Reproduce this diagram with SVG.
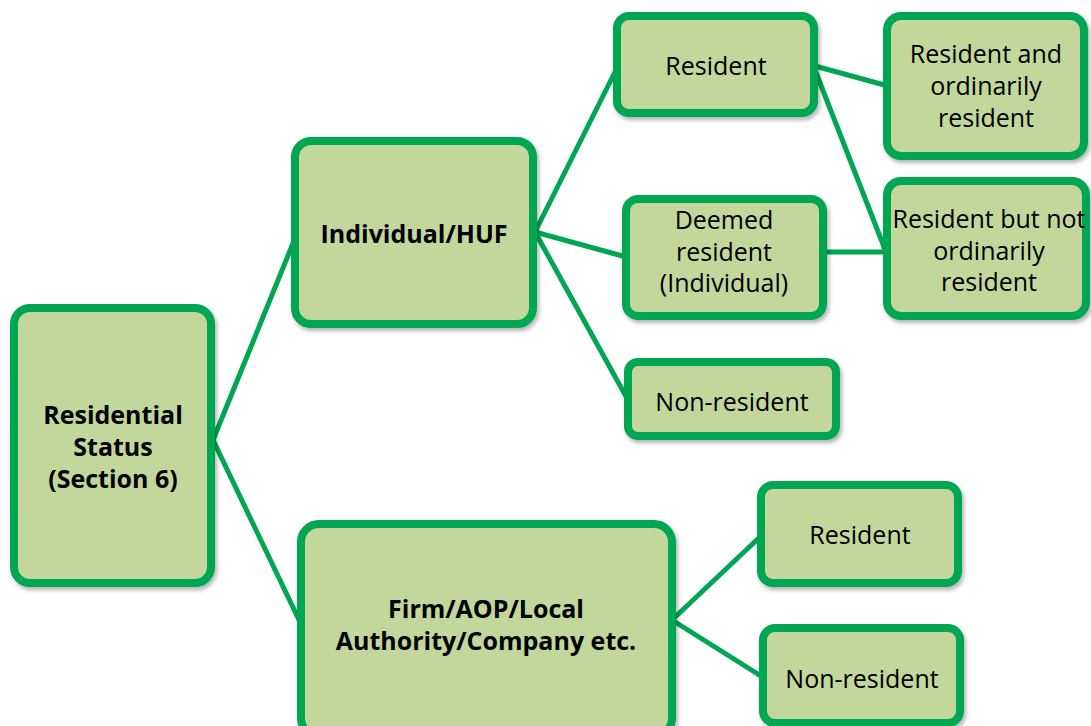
<svg xmlns="http://www.w3.org/2000/svg" width="1091" height="726" viewBox="0 0 1091 726">
<defs>
<filter id="sh" x="-10%" y="-10%" width="130%" height="130%">
<feDropShadow dx="2" dy="3" stdDeviation="2" flood-color="#000" flood-opacity="0.3"/>
</filter>
<style>
.box{fill:#C3D69B;stroke:#00A651;stroke-width:8;filter:url(#sh)}
.ln{stroke:#00A651;stroke-width:5;fill:none}
text{font-family:"Open Sans","Noto Sans",sans-serif;font-size:25px;fill:#000;text-anchor:middle;dominant-baseline:central}
.b{font-weight:bold}
</style>
</defs>
<rect width="1091" height="726" fill="#fff"/>
<g id="connectors">
<line class="ln" x1="213" y1="440" x2="296" y2="236"/>
<line class="ln" x1="213" y1="440" x2="300" y2="622"/>
<line class="ln" x1="535" y1="232" x2="618" y2="66"/>
<line class="ln" x1="535" y1="232" x2="626" y2="257"/>
<line class="ln" x1="535" y1="232" x2="628" y2="400"/>
<line class="ln" x1="815" y1="66" x2="888" y2="86"/>
<line class="ln" x1="815" y1="70" x2="886" y2="252"/>
<line class="ln" x1="822" y1="252" x2="888" y2="252"/>
<line class="ln" x1="672" y1="620" x2="762" y2="535"/>
<line class="ln" x1="672" y1="620" x2="764" y2="678"/>
</g>
<g id="n-root">
<rect class="box" x="14" y="308" width="197" height="275" rx="16"/>
<text class="b" x="113" y="414">Residential</text>
<text class="b" x="113" y="446">Status</text>
<text class="b" x="113" y="478">(Section 6)</text>
</g>
<g id="n-ind">
<rect class="box" x="295" y="141" width="238" height="183" rx="16"/>
<text class="b" x="414" y="233">Individual/HUF</text>
</g>
<g id="n-res1">
<rect class="box" x="617" y="16" width="197" height="97" rx="12"/>
<text x="716" y="65">Resident</text>
</g>
<g id="n-ror">
<rect class="box" x="887" y="16" width="197" height="140" rx="14"/>
<text x="986" y="53">Resident and</text>
<text x="986" y="85">ordinarily</text>
<text x="986" y="117">resident</text>
</g>
<g id="n-deemed">
<rect class="box" x="626" y="199" width="197" height="117" rx="12"/>
<text x="724" y="219">Deemed</text>
<text x="724" y="251">resident</text>
<text x="724" y="282">(Individual)</text>
</g>
<g id="n-rnor">
<rect class="box" x="887" y="181" width="199" height="135" rx="14"/>
<text x="989" y="218">Resident but not</text>
<text x="989" y="250">ordinarily</text>
<text x="989" y="281">resident</text>
</g>
<g id="n-nr1">
<rect class="box" x="628" y="362" width="208" height="74" rx="10"/>
<text x="732" y="401">Non-resident</text>
</g>
<g id="n-firm">
<rect class="box" x="301" y="524" width="371" height="212" rx="18"/>
<text class="b" x="486" y="608">Firm/AOP/Local</text>
<text class="b" x="486" y="640">Authority/Company etc.</text>
</g>
<g id="n-res2">
<rect class="box" x="761" y="485" width="197" height="98" rx="12"/>
<text x="860" y="534">Resident</text>
</g>
<g id="n-nr2">
<rect class="box" x="763" y="628" width="197" height="95" rx="12"/>
<text x="862" y="678">Non-resident</text>
</g>
</svg>
